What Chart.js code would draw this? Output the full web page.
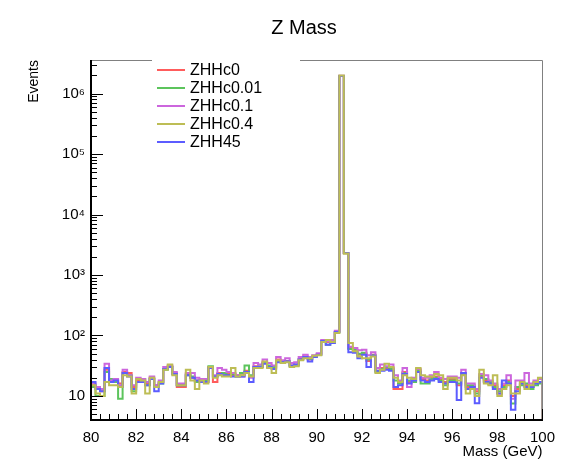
<!DOCTYPE html>
<html>
<head>
<meta charset="utf-8">
<script src="https://cdn.jsdelivr.net/npm/chart.js@4.4.0/dist/chart.umd.min.js"></script>
<style>
  body { margin: 0; background: #fff; }
  #wrap { width: 564px; height: 468px; }
</style>
</head>
<body>
<div id="wrap"><canvas id="zmass"></canvas></div>
<script>
// histogram: 100 bins of 0.2 GeV from 80 to 100
const massMin = 80, massMax = 100, binWidth = 0.2;

const seriesNames = ['ZHHc0', 'ZHHc0.01', 'ZHHc0.1', 'ZHHc0.4', 'ZHH45'];
const seriesColors = ['#ff5c5c', '#5cc45c', '#cc66dd', '#bdbd55', '#5c5cff'];

const yTickLabels = ['1', '10', '10\u00B2', '10\u00B3', '10\u2074', '10\u2075', '10\u2076'];

const zhhc0 = [15, 14, 12, 27, 18, 18, 16, 25, 24, 14,
  18, 18, 16, 20, 15, 17, 28, 31, 24, 14,
  14, 23, 20, 18, 18, 17, 30, 17, 24, 22,
  23, 22, 22, 22, 26, 21, 31, 30, 36, 31,
  29, 40, 36, 38, 32, 33, 41, 45, 40, 45,
  49, 82, 78, 79, 115, 1960000, 2300, 62, 56, 48,
  50, 38, 48, 26, 29, 29, 29, 13, 13, 25,
  17, 18, 27, 19, 18, 20, 21, 19, 17, 19,
  19, 15, 24, 14, 14, 12, 21, 18, 16, 15,
  11, 15, 18, 10, 13, 16, 15, 14, 16, 17];

const zhhc001 = [14, 10, 10, 25, 19, 17, 9, 24, 22, 12,
  17, 19, 15, 19, 14, 16, 27, 30, 23, 15,
  15, 22, 21, 17, 17, 18, 31, 21, 23, 24,
  22, 23, 21, 24, 32, 22, 30, 31, 35, 32,
  30, 38, 37, 37, 31, 32, 40, 44, 41, 44,
  48, 80, 70, 76, 112, 1950000, 2290, 60, 58, 50,
  52, 40, 47, 25, 28, 30, 28, 18, 16, 24,
  18, 17, 26, 16, 16, 19, 20, 18, 15, 18,
  18, 16, 23, 15, 15, 11, 22, 19, 17, 14,
  12, 14, 17, 7.5, 14, 15, 16, 13, 15, 16];

const zhhc01 = [16, 14, 13, 34, 18, 19, 15, 27, 22, 15,
  20, 19, 17, 21, 15, 18, 30, 32, 25, 16,
  16, 24, 24, 20, 19, 19, 29, 22, 29, 27,
  25, 24, 22, 21, 25, 20, 35, 33, 40, 35,
  32, 44, 39, 42, 35, 36, 44, 48, 44, 47,
  51, 84, 80, 84, 120, 1970000, 2320, 65, 62, 57,
  58, 47, 53, 29, 33, 31, 33, 22, 18, 29,
  14, 20, 28, 20, 20, 22, 25, 20, 19, 21,
  21, 20, 27, 16, 16, 13, 23, 22, 18, 16,
  13, 16, 22, 9, 18, 18, 24, 16, 18, 19];

const zhhc04 = [15, 11, 10, 17, 15, 15, 14, 22, 21, 11,
  19, 18, 11, 20, 14, 17, 27, 33, 22, 15,
  15, 27, 18, 13, 18, 16, 30, 20, 22, 21,
  21, 29, 21, 22, 24, 21, 29, 29, 37, 29,
  24, 39, 35, 36, 30, 31, 39, 42, 42, 46,
  47, 78, 84, 78, 110, 1990000, 2280, 75, 55, 45,
  42, 42, 45, 24, 27, 34, 30, 20, 17, 22,
  20, 19, 29, 22, 21, 21, 23, 22, 13, 20,
  20, 18, 22, 11, 13, 10, 27, 16, 15, 22,
  10, 13, 15, 11, 11, 17, 13, 15, 17, 20];

const zhh45 = [17, 13, 12, 29, 17, 18, 14, 24, 21, 13,
  17, 17, 15, 19, 12, 16, 28, 30, 23, 15,
  15, 22, 20, 18, 17, 17, 29, 21, 23, 22,
  22, 21, 21, 21, 25, 17, 30, 30, 34, 30,
  28, 36, 36, 37, 32, 33, 40, 44, 37, 44,
  48, 81, 70, 75, 114, 1960000, 2310, 53, 52, 42,
  48, 30, 46, 26, 26, 27, 26, 14, 15, 23,
  16, 18, 25, 18, 17, 18, 19, 17, 16, 17,
  17, 8.6, 24, 13, 14, 7.6, 20, 17, 16, 13,
  11, 18, 16, 5.9, 12, 16, 14, 14, 16, 17];

const allSeries = [zhhc0, zhhc001, zhhc01, zhhc04, zhh45];
const binEdges = zhhc0.map((v, i) => +(massMin + i * binWidth).toFixed(1));

// tick positions for the inside ticks of the frame
const xMajorTicks = [80, 82, 84, 86, 88, 90, 92, 94, 96, 98, 100];
const yDecades = [1, 10, 100, 1000, 10000, 100000, 1000000];

// outline points like ROOT "HIST": rise from the bottom, step along bins, drop at the end
function toSteps(values) {
    let pts = [{x: massMin, y: 1}];
    values.forEach((v, i) => pts.push({x: binEdges[i], y: v}));
    pts.push({x: massMax, y: values[values.length - 1]});
    pts.push({x: massMax, y: 1});
    return pts;
}

// yellow on top, then blue, magenta, green, red underneath
const drawOrder = [4, 3, 2, 0, 1];

const datasets = allSeries.map((vals, i) => ({
    label: seriesNames[i],
    data: toSteps(vals),
    borderColor: seriesColors[i],
    borderWidth: 2,
    stepped: 'before',
    pointRadius: 0,
    fill: false,
    order: drawOrder[i]
}));

Chart.defaults.font.family = "'Liberation Sans', Arial, Helvetica, sans-serif";
Chart.defaults.color = '#000';

// frame, inside ticks and the legend box, drawn the ROOT way
const rootFrame = {
    id: 'rootFrame',
    afterLayout(chart) {
        // ROOT centres the title a bit right of the canvas middle
        if (chart.titleBlock) {
            chart.titleBlock.left = 44;
            chart.titleBlock.right = 564;
        }
    },
    afterDraw(chart) {
        const ctx = chart.ctx;
        const a = chart.chartArea;
        const xs = chart.scales.x, ys = chart.scales.y;
        const L = Math.round(a.left), R = Math.round(a.right);
        const T = Math.round(a.top), B = Math.round(a.bottom);
        ctx.save();

        // frame top/right
        ctx.strokeStyle = 'rgb(128,128,128)';
        ctx.lineWidth = 1;
        ctx.beginPath();
        ctx.moveTo(L, T + 0.5);
        ctx.lineTo(R + 0.5, T + 0.5);
        ctx.lineTo(R + 0.5, B);
        ctx.stroke();

        // y ticks: decades long, 2..9 short
        ctx.fillStyle = 'rgb(0,0,0)';
        yDecades.forEach(dec => {
            for (let m = 1; m <= 9; m++) {
                const py = Math.round(ys.getPixelForValue(m * dec));
                if (!(py >= T && py <= B)) continue;
                ctx.fillRect(L, py, m === 1 ? 12 : 6, 1);
            }
        });
        // x ticks: every 2 GeV long, 4 short ones between
        xMajorTicks.forEach((v, k) => {
            const px = Math.round(xs.getPixelForValue(v));
            ctx.fillRect(px, B - 11, 1, 11);
            if (k === xMajorTicks.length - 1) return;
            for (let s = 1; s <= 4; s++) {
                const qx = Math.round(xs.getPixelForValue(v + s * 0.4));
                ctx.fillRect(qx, B - 6, 1, 6);
            }
        });

        // axes
        ctx.fillRect(L - 1, T, 2, B - T + 1);
        ctx.fillRect(L - 1, B - 1, R - L + 2, 2);

        // legend
        ctx.fillStyle = '#fff';
        ctx.fillRect(152, 53, 148, 98);
        ctx.font = "16px 'Liberation Sans', Arial, sans-serif";
        ctx.textBaseline = 'middle';
        seriesNames.forEach((name, i) => {
            const y = 70 + i * 18;
            ctx.strokeStyle = seriesColors[i];
            ctx.lineWidth = 2;
            ctx.beginPath();
            ctx.moveTo(157, y);
            ctx.lineTo(185, y);
            ctx.stroke();
            ctx.fillStyle = '#000';
            ctx.fillText(name, 190, y + 1);
        });
        ctx.restore();
    }
};

new Chart(document.getElementById('zmass'), {
    type: 'line',
    data: { datasets: datasets },
    options: {
        animation: false,
        responsive: true,
        maintainAspectRatio: false,
        layout: { padding: { left: 0, right: 21, top: 0, bottom: 0 } },
        plugins: {
            legend: { display: false },
            tooltip: { enabled: false },
            title: {
                display: true,
                text: 'Z Mass',
                font: { size: 20, weight: 'normal' },
                color: '#000',
                padding: { top: 16, bottom: 20 }
            }
        },
        scales: {
            x: {
                type: 'linear',
                min: massMin,
                max: massMax,
                grid: { display: false, drawTicks: false },
                border: { display: false },
                ticks: { stepSize: 2, padding: 9, maxRotation: 0, font: { size: 15 }, color: '#000' },
                title: {
                    display: true, text: 'Mass (GeV)', align: 'end',
                    font: { size: 15 }, color: '#000', padding: { top: 0, bottom: 7 }
                },
                afterFit(scale) { scale.height = 48; }
            },
            y: {
                type: 'logarithmic',
                min: 4,
                max: 3.6e6,
                grid: { display: false, drawTicks: false },
                border: { display: false },
                ticks: {
                    autoSkip: false,
                    padding: 6,
                    font: { size: 15 },
                    color: '#000',
                    callback: function(value) {
                        const e = Math.log10(value);
                        const r = Math.round(e);
                        if (Math.abs(e - r) < 1e-9 && r >= 1) return yTickLabels[r];
                        return '';
                    }
                },
                title: {
                    display: true, text: 'Events', align: 'end',
                    font: { size: 14 }, color: '#000', padding: { top: 26, bottom: 0 }
                },
                afterFit(scale) { scale.width = 91; }
            }
        }
    },
    plugins: [rootFrame]
});
</script>
</body>
</html>
